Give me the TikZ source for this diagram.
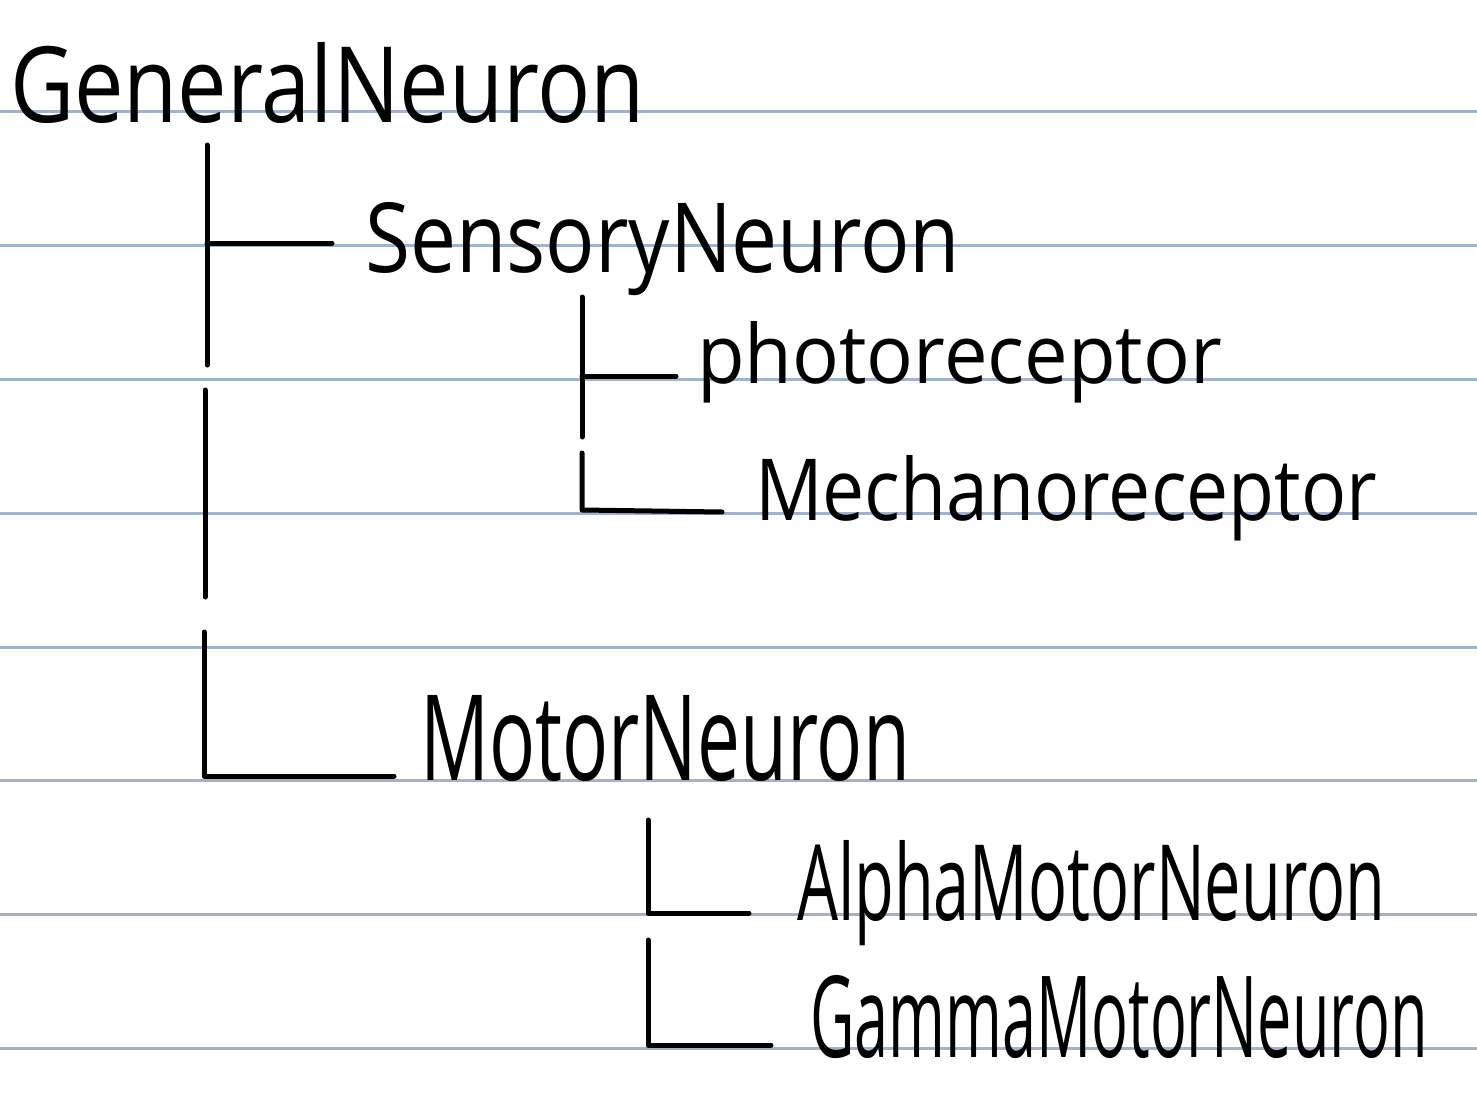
\documentclass[tikz,border=0pt]{standalone}
\usepackage{fontspec}
\usepackage{graphicx}
\setmainfont{Open Sans}
\definecolor{rulecol}{RGB}{160,178,206}
\tikzset{
  paperline/.style={draw=rulecol, line width=3pt},
  treeline/.style={draw=black, line width=5pt, line cap=round, line join=round},
  hand/.style={anchor=base west, inner sep=0pt, outer sep=0pt}
}
\newcommand{\handtext}[3]{\resizebox{#1pt}{#2pt}{#3}}
\begin{document}
\begin{tikzpicture}[x=1pt,y=-1pt]
\useasboundingbox[fill=white] (0,0) rectangle (1477,1108);
% ruled paper lines
\foreach \yy in {111,245,379,513,647,780,914,1048}
  \draw[paperline] (0,\yy) -- (1477,\yy);
% texts
\node[hand] (general) at (10,122) {\handtext{635}{80}{GeneralNeuron}};
\node[hand] (sensory) at (365,272) {\handtext{595}{70}{SensoryNeuron}};
\node[hand] (photo) at (697,383) {\handtext{525}{62}{photoreceptor}};
\node[hand] (mech) at (755,520) {\handtext{622}{65}{Mechanoreceptor}};
\node[hand] (motor) at (420,780) {\handtext{490}{85}{MotorNeuron}};
\node[hand] (alpha) at (797,920) {\handtext{588}{80}{AlphaMotorNeuron}};
\node[hand] (gamma) at (810,1057) {\handtext{618}{82}{GammaMotorNeuron}};
% tree connectors
\coordinate (g1top) at (207,145);
\coordinate (g1bot) at (207,365);
\coordinate (g1mid) at (207,243);
\coordinate (g1end) at (332,243);
\coordinate (g2top) at (205,390);
\coordinate (g2bot) at (205,597);
\coordinate (g3top) at (204,632);
\coordinate (g3corner) at (204,776);
\coordinate (g3end) at (394,776);
\coordinate (s1top) at (582,297);
\coordinate (s1bot) at (582,437);
\coordinate (s1mid) at (582,376);
\coordinate (s1end) at (676,376);
\coordinate (s2top) at (582,453);
\coordinate (s2corner) at (582,510);
\coordinate (s2end) at (722,512);
\coordinate (m1top) at (648,820);
\coordinate (m1corner) at (648,913);
\coordinate (m1end) at (749,913);
\coordinate (m2top) at (648,940);
\coordinate (m2corner) at (648,1045);
\coordinate (m2end) at (771,1045);
\draw[treeline] (g1top) -- (g1bot);
\draw[treeline] (g1mid) -- (g1end);
\draw[treeline] (g2top) -- (g2bot);
\draw[treeline] (g3top) -- (g3corner) -- (g3end);
\draw[treeline] (s1top) -- (s1bot);
\draw[treeline] (s1mid) -- (s1end);
\draw[treeline] (s2top) -- (s2corner) -- (s2end);
\draw[treeline] (m1top) -- (m1corner) -- (m1end);
\draw[treeline] (m2top) -- (m2corner) -- (m2end);
\end{tikzpicture}
\end{document}
